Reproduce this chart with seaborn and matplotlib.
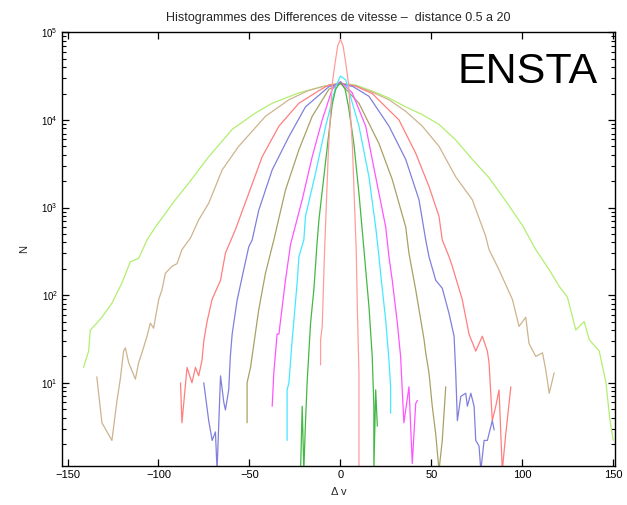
import numpy as np
import pandas as pd
import matplotlib
matplotlib.use("Agg")
import matplotlib.pyplot as plt
import seaborn as sns
from matplotlib.ticker import LogLocator, NullFormatter, NullLocator

sns.set_style("ticks")
plt.rcParams["font.family"] = ["Liberation Sans", "DejaVu Sans"]

# Velocity-difference histograms, one per separation distance (narrow -> wide)
dv_d1 = [-10.9, -10.9, -10.0, -8.7, -6.6, -4.5, -3.0, -1.5, 0.0, 1.5, 3.0, 4.5, 6.6, 8.7, 9.3, 10.2, 10.2]
n_d1 = [16, 31, 44, 320, 4500, 25700, 43600, 70000, 83000, 70000, 43600, 25700, 5000, 320, 74, 13, 1]

dv_d2 = [-21.9, -21.0, -20.1, -19.2, -18.3, -16.4, -14.6, -12.8, -11.8, -9.1, -7.0, -4.5, -2.6, 0.0,
         2.6, 4.5, 7.4, 10.2, 12.9, 15.7, 17.5, 18.4, 18.4, 19.4, 20.3]
n_d2 = [1, 5.4, 1, 3.5, 10, 48, 115, 400, 724, 2240, 5370, 15000, 22400, 27000,
        22400, 14000, 5370, 1450, 340, 74, 20, 5.4, 1, 8.3, 3.2]

dv_d3 = [-29.3, -29.3, -28.3, -26.5, -23.8, -22.8, -20.1, -19.2, -13.7, -8.1, -2.6, 0.0,
         2.9, 10.2, 15.7, 19.4, 21.2, 22.1, 24.9, 26.7, 27.6, 27.6]
n_d3 = [2.2, 8.3, 10, 31, 138, 275, 427, 794, 2450, 8500, 24000, 31600,
        28800, 8500, 2240, 600, 275, 178, 52, 18, 9, 4.5]

dv_d4 = [-37.5, -36.6, -34.8, -33.8, -30.2, -27.4, -21.0, -15.5, -10.0, -4.5, 0.0,
         6.5, 13.9, 19.4, 24.9, 26.7, 28.5, 31.3, 33.1, 34.0, 34.9, 37.7, 39.5, 41.4, 42.3]
n_d4 = [5.4, 13, 36, 36, 148, 380, 1230, 3800, 10000, 22400, 27500,
        20400, 8500, 2240, 600, 275, 148, 48, 20, 8.3, 3.5, 9, 1.2, 5.8, 6.3]

dv_d5 = [-51.3, -51.3, -49.4, -44.9, -41.2, -36.6, -30.2, -22.8, -15.5, -6.3, 0.0,
         10.2, 21.2, 28.5, 35.9, 37.7, 41.4, 46.0, 46.9, 48.7, 50.5, 52.4, 54.2, 56.0, 57.9]
n_d5 = [3.5, 10, 15, 68, 178, 427, 1580, 4570, 11000, 22400, 26300,
        15500, 5370, 2090, 600, 300, 115, 31, 22, 13, 5.4, 2.6, 1, 2.2, 9]

dv_d6 = [-75.1, -72.4, -70.5, -68.7, -67.8, -65.9, -64.1, -63.2, -61.4, -60.5, -59.5, -56.8,
         -54.0, -50.4, -48.5, -44.9, -37.5, -28.3, -19.2, -6.3, 0.0,
         7.0, 15.7, 26.7, 35.9, 43.2, 46.9, 48.7, 52.4, 56.0, 59.7, 62.5, 63.4, 64.3, 66.2, 68.9,
         69.8, 71.7, 73.5, 74.4, 76.2, 77.2, 79.0, 80.8, 83.5, 84.5]
n_d6 = [10, 3.7, 2.2, 2.75, 1, 12, 6, 4.9, 8.3, 20, 36, 87,
        162, 355, 427, 930, 2690, 6450, 14100, 24000, 26000,
        24000, 18600, 8500, 3550, 1230, 427, 275, 148, 120, 62, 34, 13, 3.7, 7, 7.6,
        5.4, 7.6, 5.4, 2.2, 1.9, 1, 2.2, 2.2, 3.7, 2.9]

dv_d7 = [-87.9, -87.1, -84.3, -81.6, -79.7, -77.9, -76.1, -75.1, -73.3, -70.5, -65.9, -63.2,
         -57.7, -50.4, -43.0, -33.8, -22.8, -12.0, -6.3, 0.0,
         8.0, 17.5, 32.2, 41.4, 48.7, 54.2, 56.0, 59.7, 61.5, 67.0, 70.7, 74.4, 78.0, 80.8, 81.7,
         83.5, 85.4, 87.2, 89.0, 90.9, 93.7]
n_d7 = [10, 3.5, 15, 10, 15, 12, 18, 30, 50, 90, 148, 302,
        562, 1450, 3800, 8500, 15500, 21500, 25100, 26000,
        24500, 20000, 10000, 4170, 1740, 794, 427, 275, 214, 89, 36, 23, 34, 23, 17,
        3.7, 5.4, 8.3, 1, 2.6, 9]

dv_d8 = [-133.9, -131.1, -125.6, -122.8, -121.0, -119.2, -118.2, -116.4, -112.7, -110.9, -109.1,
         -106.3, -104.5, -102.7, -99.9, -98.1, -96.2, -92.5, -89.8, -87.1, -82.4, -77.9, -72.4,
         -65.0, -55.9, -41.2, -28.3, -18.0, -10.0, 0.0,
         8.4, 17.0, 26.7, 36.0, 45.0, 54.2, 63.4, 72.5, 79.9, 81.7, 87.2, 94.6, 98.2, 101.9, 103.7, 107.4,
         111.1, 112.9, 114.8, 117.5]
n_d8 = [11.7, 3.5, 2.2, 6.3, 11, 23, 25, 17, 11, 17, 22,
        34, 48, 42, 89, 115, 178, 214, 229, 331, 450, 724, 1120,
        2690, 5000, 11000, 17000, 21500, 24000, 26000,
        24500, 21000, 17000, 12500, 8500, 5000, 2240, 1230, 468, 331, 195, 89, 44, 56, 28, 20,
        22, 14, 7.6, 13]

dv_d9 = [-141.2, -138.4, -137.5, -134.7, -131.1, -125.6, -120.1, -115.5, -110.9, -106.3, -101.7,
         -90.7, -83.4, -72.4, -59.5, -46.7, -37.5, -22.8, -10.0, 0.0,
         8.4, 17.5, 26.7, 35.9, 45.0, 54.2, 63.4, 72.5, 81.7, 90.0, 100.0, 107.4, 114.8, 120.3,
         124.8, 129.4, 134.0, 136.8, 142.3, 146.0, 148.0, 150.0]
n_d9 = [15, 23, 40, 46, 56, 81, 138, 240, 263, 427, 600,
        1230, 1900, 3800, 7800, 12000, 15500, 20400, 24000, 26300,
        25000, 21400, 17800, 14100, 11500, 8900, 5900, 3550, 2190, 1260, 630, 331, 195, 126,
        95, 40, 50, 31, 23, 10, 4, 2.2]

curves = [
    ("d9", dv_d9, n_d9, "#b2ee70"),
    ("d8", dv_d8, n_d8, "#cdb48e"),
    ("d7", dv_d7, n_d7, "#ff7f7f"),
    ("d6", dv_d6, n_d6, "#8080dc"),
    ("d5", dv_d5, n_d5, "#a9a164"),
    ("d4", dv_d4, n_d4, "#ff55ff"),
    ("d3", dv_d3, n_d3, "#44e8ff"),
    ("d2", dv_d2, n_d2, "#44b844"),
    ("d1", dv_d1, n_d1, "#ff9c9c"),
]

frames = []
for name, dv, n, _ in curves:
    frames.append(pd.DataFrame({"dv": dv, "N": n, "curve": name}))
df = pd.concat(frames, ignore_index=True)
palette = {name: col for name, _, _, col in curves}

fig = plt.figure(figsize=(6.27, 5.05), dpi=100)
ax = fig.add_axes([0.099, 0.077, 0.882, 0.859])

sns.lineplot(data=df, x="dv", y="N", hue="curve", palette=palette,
             estimator=None, sort=False, legend=False, linewidth=0.9, ax=ax)

ax.set_yscale("log")
ax.set_xlim(-153, 151)
ax.set_ylim(1.12, 1e5)
ax.set_xticks([-150, -100, -50, 0, 50, 100, 150])
ax.set_yticks([1e1, 1e2, 1e3, 1e4, 1e5])
ax.yaxis.set_minor_locator(LogLocator(base=10, subs=np.arange(2, 10)))
ax.yaxis.set_minor_formatter(NullFormatter())
ax.xaxis.set_minor_locator(NullLocator())

ax.tick_params(which="both", direction="in", top=True, right=True, colors="black")
ax.tick_params(which="major", length=5, width=0.9, labelsize=8, pad=3)
ax.tick_params(which="minor", length=3, width=0.8)
ax.tick_params(axis="y", which="major", labelsize=7)
for sp in ax.spines.values():
    sp.set_linewidth(1.0)
    sp.set_color("black")

ax.set_xlabel("Δ v", fontsize=8, labelpad=5)
ax.set_ylabel("N", fontsize=8, labelpad=9)
ax.set_title("Histogrammes des Differences de vitesse –  distance 0.5 a 20", fontsize=9, pad=8)

fig.text(0.842, 0.858, "ENSTA", fontsize=31, ha="center", va="center", color="black")

fig.savefig("out.png", dpi=100)
